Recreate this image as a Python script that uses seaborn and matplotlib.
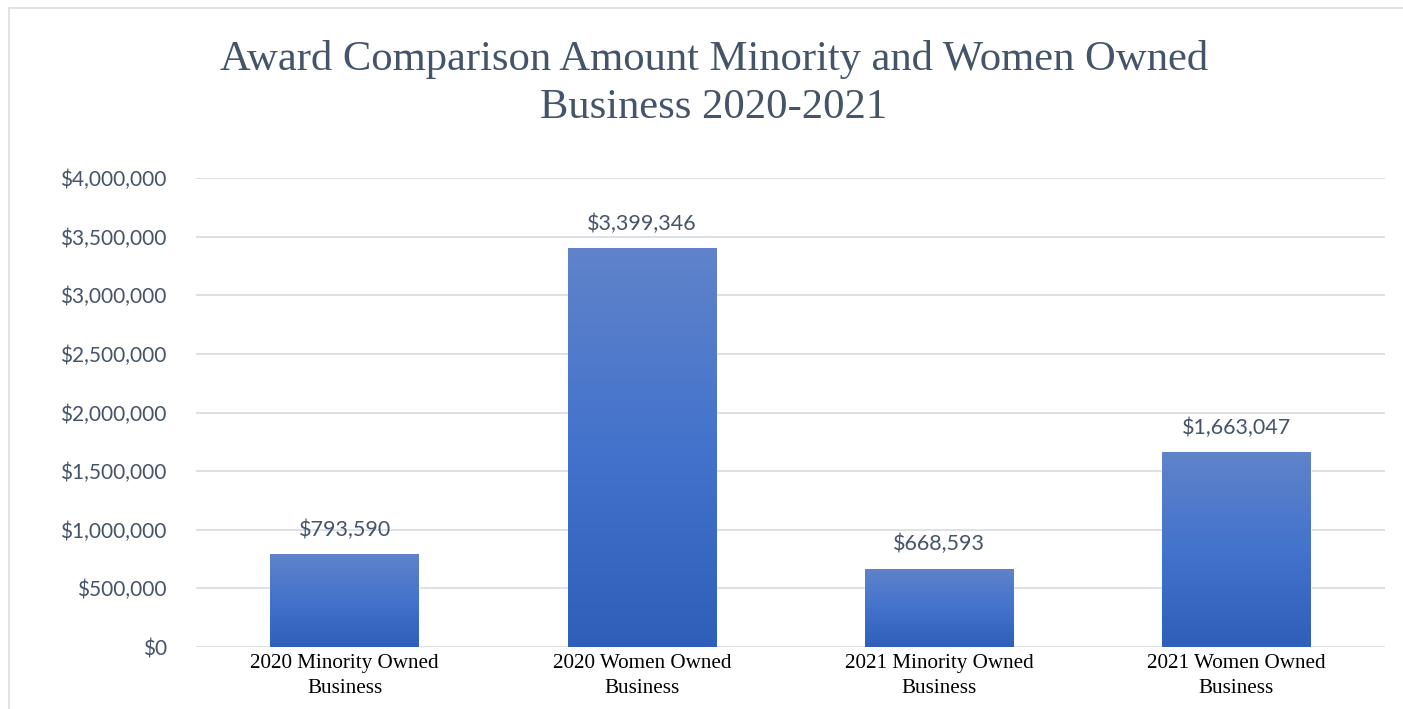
import numpy as np
import pandas as pd
import matplotlib
matplotlib.use("Agg")
import matplotlib.pyplot as plt
from matplotlib.colors import LinearSegmentedColormap
from matplotlib.lines import Line2D
from matplotlib.ticker import FuncFormatter, MultipleLocator
import seaborn as sns

# Award amounts per category
categories = [
    "2020 Minority Owned\nBusiness",
    "2020 Women Owned\nBusiness",
    "2021 Minority Owned\nBusiness",
    "2021 Women Owned\nBusiness",
]
amounts = [793590, 3399346, 668593, 1663047]

title_line1 = "Award Comparison Amount Minority and Women Owned"
title_line2 = "Business 2020-2021"

TEXT_BLUE = "#44546A"
GRID = "#DDE1E6"

sns.set_theme(style="white")
plt.rcParams["font.family"] = ["Lato", "DejaVu Sans"]

df = pd.DataFrame({"category": categories, "amount": amounts})

fig = plt.figure(figsize=(14.03, 7.09), dpi=100)
ax = fig.add_axes([196 / 1403, 1 - 647 / 709, 1189 / 1403, 469 / 709])

sns.barplot(data=df, x="category", y="amount", color="#4373CC",
            width=0.5, ax=ax, zorder=3, saturation=1)

# Vertical gradient fill for each bar, clipped to the bar shape
grad_cmap = LinearSegmentedColormap.from_list(
    "bar_grad", ["#2E5FB9", "#4373CC", "#6083CA"])
gradient = np.linspace(0, 1, 256).reshape(-1, 1)
for patch in list(ax.patches):
    x0, y0 = patch.get_x(), patch.get_y()
    w, h = patch.get_width(), patch.get_height()
    im = ax.imshow(gradient, cmap=grad_cmap, aspect="auto", origin="lower",
                   extent=[x0, x0 + w, y0, y0 + h], zorder=4,
                   interpolation="bilinear")
    im.set_clip_path(patch)

ax.set_xlim(-0.5, len(categories) - 0.5)
ax.set_ylim(0, 4_000_000)
ax.yaxis.set_major_locator(MultipleLocator(500_000))
ax.yaxis.set_major_formatter(FuncFormatter(lambda v, _: f"${v:,.0f}"))
ax.grid(axis="y", color=GRID, linewidth=1.4, zorder=0)
ax.set_axisbelow(True)
for side in ["top", "right", "left", "bottom"]:
    ax.spines[side].set_visible(False)
ax.set_xlabel("")
ax.set_ylabel("")
ax.tick_params(axis="y", length=0, pad=21, labelsize=15, labelcolor=TEXT_BLUE)
ax.tick_params(axis="x", length=0, pad=5)
for lbl in ax.get_xticklabels():
    lbl.set_fontfamily("Liberation Serif")
    lbl.set_fontsize(15.2)
    lbl.set_color("black")
    lbl.set_linespacing(1.4)

# Value labels above the bars
for i, v in enumerate(amounts):
    ax.annotate(f"${v:,.0f}", xy=(i, v), xytext=(0, 13),
                textcoords="offset points", ha="center", va="baseline",
                fontsize=15.5, color=TEXT_BLUE, zorder=5)

# Title
fig.text(714 / 1403, 1 - 70 / 709, title_line1, ha="center", va="baseline",
         fontsize=30.7, color=TEXT_BLUE, fontfamily="Liberation Serif")
fig.text(714 / 1403, 1 - 118 / 709, title_line2, ha="center", va="baseline",
         fontsize=30.7, color=TEXT_BLUE, fontfamily="Liberation Serif")

# Chart area frame
frame_kw = dict(color="#D9DDE2", linewidth=1.2, transform=fig.transFigure)
fig.add_artist(Line2D([9 / 1403, 9 / 1403], [-0.05, 1 - 8 / 709], **frame_kw))
fig.add_artist(Line2D([9 / 1403, 1.05], [1 - 8 / 709, 1 - 8 / 709], **frame_kw))

fig.savefig("out.png", dpi=100, facecolor="white")
